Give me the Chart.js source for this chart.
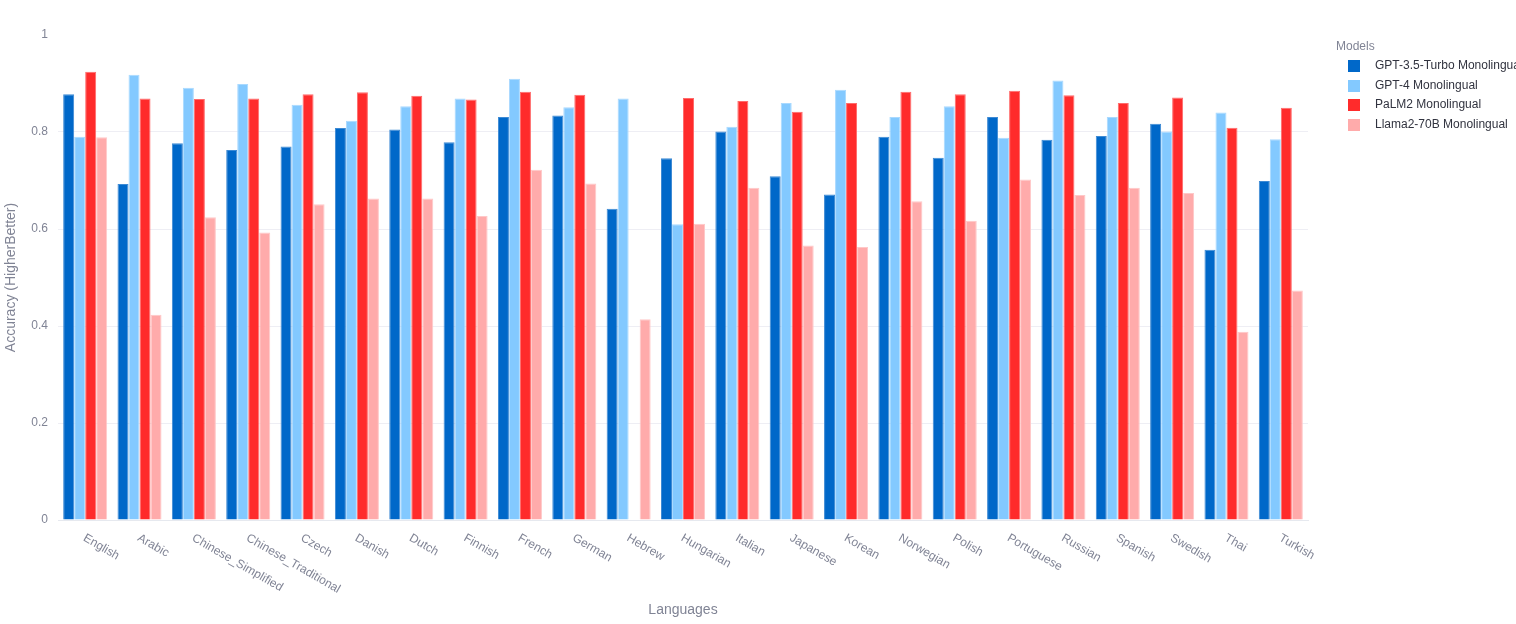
<!DOCTYPE html>
<html>
<head>
<meta charset="utf-8">
<script src="https://cdn.jsdelivr.net/npm/chart.js@4"></script>
<style>
  html,body{margin:0;padding:0;background:#fff;overflow:hidden;}
  #wrap{position:relative;width:1516px;height:624px;}
  #legend{position:absolute;left:1336px;top:39px;font-family:"Liberation Sans",Arial,sans-serif;font-size:12px;white-space:nowrap;}
  #legend .title{color:#808495;margin-bottom:3px;height:14px;line-height:14px;}
  #legend .item{position:relative;height:19.5px;line-height:19.5px;color:#31333f;padding-left:39px;}
  #legend .sw{position:absolute;left:12px;top:4px;width:12px;height:12px;}
</style>
</head>
<body>
<div id="wrap">
  <canvas id="c" width="1516" height="624"></canvas>
  <div id="legend"></div>
</div>
<script>
const languages = ["English","Arabic","Chinese_Simplified","Chinese_Traditional","Czech","Danish","Dutch","Finnish","French","German","Hebrew","Hungarian","Italian","Japanese","Korean","Norwegian","Polish","Portuguese","Russian","Spanish","Swedish","Thai","Turkish"];
const seriesNames = ["GPT-3.5-Turbo Monolingual","GPT-4 Monolingual","PaLM2 Monolingual","Llama2-70B Monolingual"];
const gpt35 = [0.878,0.693,0.777,0.763,0.770,0.808,0.805,0.779,0.831,0.834,0.642,0.746,0.801,0.709,0.671,0.790,0.747,0.831,0.784,0.792,0.817,0.557,0.699];
const gpt4  = [0.790,0.918,0.891,0.899,0.856,0.823,0.853,0.869,0.910,0.851,0.869,0.610,0.811,0.860,0.887,0.831,0.853,0.788,0.906,0.831,0.801,0.840,0.785];
const palm2 = [0.924,0.869,0.868,0.869,0.878,0.882,0.875,0.867,0.883,0.877,null,0.870,0.864,0.842,0.860,0.883,0.878,0.885,0.876,0.860,0.871,0.809,0.850];
const llama = [0.789,0.423,0.624,0.593,0.651,0.663,0.663,0.627,0.722,0.694,0.414,0.611,0.685,0.566,0.563,0.657,0.617,0.702,0.670,0.685,0.674,0.388,0.473];
const colors = ["#0068c9","#83c9ff","#ff2b2b","#ffabab"];
const borders = ["#3d8ad4","#a9d9ff","#ff6b6b","#ffc8c8"];
const yTicks = [0,0.2,0.4,0.6,0.8,1];

const FONT = '"Liberation Sans", Arial, sans-serif';
const GRAY = '#808495';

const dataArrays = [gpt35,gpt4,palm2,llama];
const datasets = dataArrays.map((d,i)=>({
  label: seriesNames[i], data: d,
  backgroundColor: colors[i], borderColor: borders[i], borderWidth: 1,
  categoryPercentage: 0.81, barPercentage: 1.0
}));

const customDraw = {
  id:'customDraw',
  afterDraw(chart){
    const ctx = chart.ctx, x = chart.scales.x, area = chart.chartArea;
    ctx.save();
    ctx.fillStyle = GRAY;
    ctx.font = '12px ' + FONT;
    ctx.textAlign = 'left'; ctx.textBaseline = 'top';
    languages.forEach((lab,i)=>{
      const px = x.getPixelForTick(i);
      ctx.save();
      ctx.translate(px + 2, area.bottom + 12);
      ctx.rotate(Math.PI/6);
      ctx.fillText(lab,0,0);
      ctx.restore();
    });
    ctx.font = '14px ' + FONT;
    ctx.textAlign = 'center'; ctx.textBaseline = 'middle';
    ctx.fillText('Languages', (area.left+area.right)/2, 610);
    ctx.save();
    ctx.translate(11, (area.top+area.bottom)/2);
    ctx.rotate(-Math.PI/2);
    ctx.fillText('Accuracy (HigherBetter)', 0, 0);
    ctx.restore();
    ctx.restore();
  }
};

new Chart(document.getElementById('c'), {
  type:'bar',
  data:{ labels: languages, datasets },
  options:{
    responsive:false, animation:false,
    layout:{ padding:{ left:0, top:35, right:208, bottom:0 } },
    plugins:{ legend:{display:false}, tooltip:{enabled:false} },
    scales:{
      x:{
        grid:{display:false, drawTicks:false},
        border:{display:true, color:'#e6e9ef', width:1},
        ticks:{display:false},
        afterFit(s){ s.height = 104; }
      },
      y:{
        min:0, max:1,
        afterBuildTicks(s){ s.ticks = yTicks.map(v=>({value:v})); },
        afterFit(s){ s.width = 58; },
        grid:{ color:(c)=> (c.tick && c.tick.value===1) ? 'rgba(0,0,0,0)' : '#eeeef4', drawTicks:false, lineWidth:1 },
        border:{display:false},
        ticks:{ color:GRAY, font:{family:FONT,size:12}, padding:10,
          callback:(v)=> String(v) }
      }
    }
  },
  plugins:[customDraw]
});

const lg = document.getElementById('legend');
let html = '<div class="title">Models</div>';
seriesNames.forEach((n,i)=>{ html += '<div class="item"><span class="sw" style="background:'+colors[i]+'"></span>'+n+'</div>'; });
lg.innerHTML = html;
</script>
</body>
</html>
